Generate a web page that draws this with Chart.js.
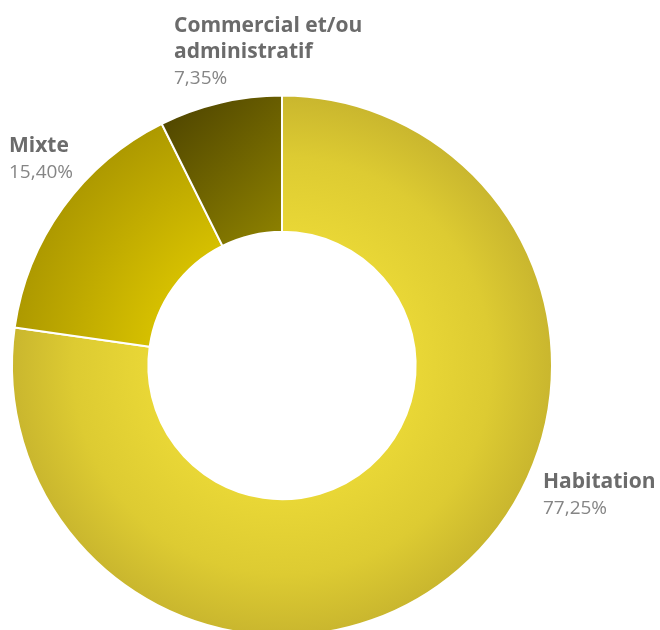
<!DOCTYPE html>
<html><head><meta charset="utf-8">
<script src="https://cdn.jsdelivr.net/npm/chart.js@4"></script>
<style>
html,body{margin:0;padding:0;background:#fff;overflow:hidden;width:660px;height:630px}
#wrap{position:absolute;left:0;top:0;width:660px;height:640px}
</style>
</head><body><div id="wrap"><canvas id="c" width="660" height="640"></canvas></div>
<script>
const categories = ["Habitation", "Mixte", "Commercial et/ou administratif"];
const labelLines = [["Habitation"], ["Mixte"], ["Commercial et/ou", "administratif"]];
const values = [77.25, 15.40, 7.35];
const valueLabels = ["77,25%", "15,40%", "7,35%"];

function geom(chart){
  const a = chart.chartArea;
  return {cx:(a.left+a.right)/2, cy:(a.top+a.bottom)/2, r:Math.min(a.right-a.left,a.bottom-a.top)/2};
}
const flat = ["#e2cf30", "#c9b300", "#756900"];
function fill(ctx){
  const chart = ctx.chart;
  if(!chart.chartArea) return flat[ctx.dataIndex];
  const g = geom(chart);
  const c = chart.ctx;
  const i = ctx.dataIndex;
  if(i === 0){
    const gr = c.createRadialGradient(g.cx, g.cy, g.r*0.49, g.cx, g.cy, g.r);
    gr.addColorStop(0, "#e9d736");
    gr.addColorStop(0.55, "#ddcb32");
    gr.addColorStop(1, "#c9b62e");
    return gr;
  }
  if(i === 1){
    const gr = c.createRadialGradient(g.cx, g.cy, g.r*0.49, g.cx, g.cy, g.r);
    gr.addColorStop(0, "#d6c000");
    gr.addColorStop(1, "#ad9900");
    return gr;
  }
  const gr = c.createLinearGradient(g.cx-120, g.cy-265, g.cx, g.cy-130);
  gr.addColorStop(0, "#4c4200");
  gr.addColorStop(1, "#8d8100");
  return gr;
}

const labelPlugin = {
  id: "labels",
  afterDraw(chart){
    const c = chart.ctx;
    const pos = [[543, 488], [9, 152], [174, 32]];
    c.save();
    c.textAlign = "left";
    c.textBaseline = "alphabetic";
    for(let i=0;i<categories.length;i++){
      let [x,y] = pos[i];
      c.font = "bold 21px 'Open Sans'";
      c.fillStyle = "#6b6b6b";
      for(const line of labelLines[i]){
        c.fillText(line, x, y);
        y += 26;
      }
      c.font = "19px 'Open Sans'";
      c.fillStyle = "#858585";
      c.fillText(valueLabels[i], x, y);
    }
    c.restore();
  }
};

new Chart(document.getElementById("c"), {
  type: "doughnut",
  data: {
    labels: categories,
    datasets: [{
      data: values,
      backgroundColor: fill,
      borderColor: "#ffffff",
      borderWidth: 2,
      hoverOffset: 0
    }]
  },
  options: {
    responsive: false,
    animation: false,
    devicePixelRatio: 1,
    cutout: "49.5%",
    layout: {padding: {left: 11, right: 107, top: 94, bottom: 3}},
    plugins: {legend: {display: false}, tooltip: {enabled: false}}
  },
  plugins: [labelPlugin]
});
</script>
</body></html>
